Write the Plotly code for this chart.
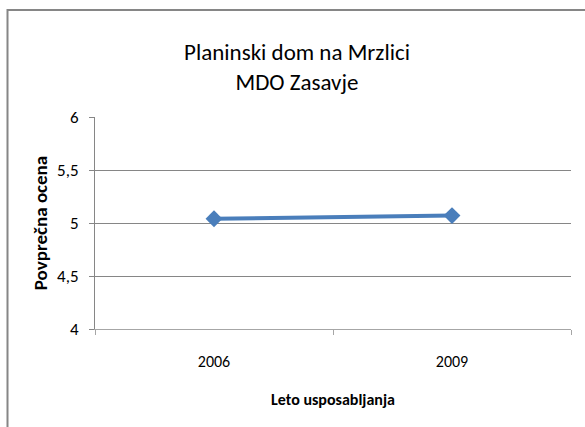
import plotly.graph_objects as go

years = ["2006", "2009"]
scores = [5.04, 5.07]
y_ticks = [4, 4.5, 5, 5.5, 6]
y_tick_labels = ["4", "4,5", "5", "5,5", "6"]

FONT = "Carlito, 'Liberation Sans Narrow', 'Open Sans', sans-serif"
W, H = 585, 427
L, R, T, B = 95, 571, 117, 329
pw, ph = R - L, B - T

fig = go.Figure()
fig.add_trace(go.Scatter(
    x=years, y=scores, mode="lines+markers",
    line=dict(color="#4A7EBB", width=4),
    marker=dict(symbol="diamond", size=13, color="#4A7EBB"),
    showlegend=False, cliponaxis=False,
))

fig.update_layout(
    width=W, height=H,
    margin=dict(l=L, r=W - R, t=T, b=H - B, pad=0),
    paper_bgcolor="white", plot_bgcolor="white",
    font=dict(family=FONT, color="#000000", size=16),
    title=dict(
        text="Planinski dom na Mrzlici<br>MDO Zasavje",
        x=297 / W, xref="container", xanchor="center",
        y=1 - 60 / H, yref="container", yanchor="middle",
        font=dict(family=FONT, size=23, color="#000000"),
    ),
    xaxis=dict(
        type="category", range=[-0.5, 1.5],
        showline=True, linecolor="#A6A6A6", linewidth=1,
        ticks="outside", tickson="boundaries", ticklen=5, tickcolor="#A6A6A6",
        showgrid=False, zeroline=False,
        tickfont=dict(family=FONT, size=16, color="#000000"),
        ticklabelstandoff=18,
        title=dict(text="<b>Leto usposabljanja</b>", standoff=23,
                   font=dict(family=FONT, size=16, color="#000000")),
    ),
    yaxis=dict(
        range=[4, 6], tickvals=y_ticks, ticktext=y_tick_labels,
        showline=True, linecolor="#868686", linewidth=1,
        ticks="outside", ticklen=5, tickcolor="#868686",
        showgrid=True, gridcolor="#868686", gridwidth=1, zeroline=False,
        tickfont=dict(family=FONT, size=17, color="#000000"),
        ticklabelstandoff=7,
        title=dict(text="<b>Povprečna ocena</b>", standoff=4,
                   font=dict(family=FONT, size=19, color="#000000")),
    ),
    shapes=[dict(
        type="rect", xref="paper", yref="paper",
        x0=(7.5 - L) / pw, x1=(W + 10 - L) / pw,
        y0=(B - (H + 10)) / ph, y1=(B - 10) / ph,
        line=dict(color="#868686", width=2), fillcolor="rgba(0,0,0,0)",
        layer="below",
    )],
)

fig.write_html("out.html", config={"displayModeBar": False},
               post_script="document.body.style.margin='0';")
